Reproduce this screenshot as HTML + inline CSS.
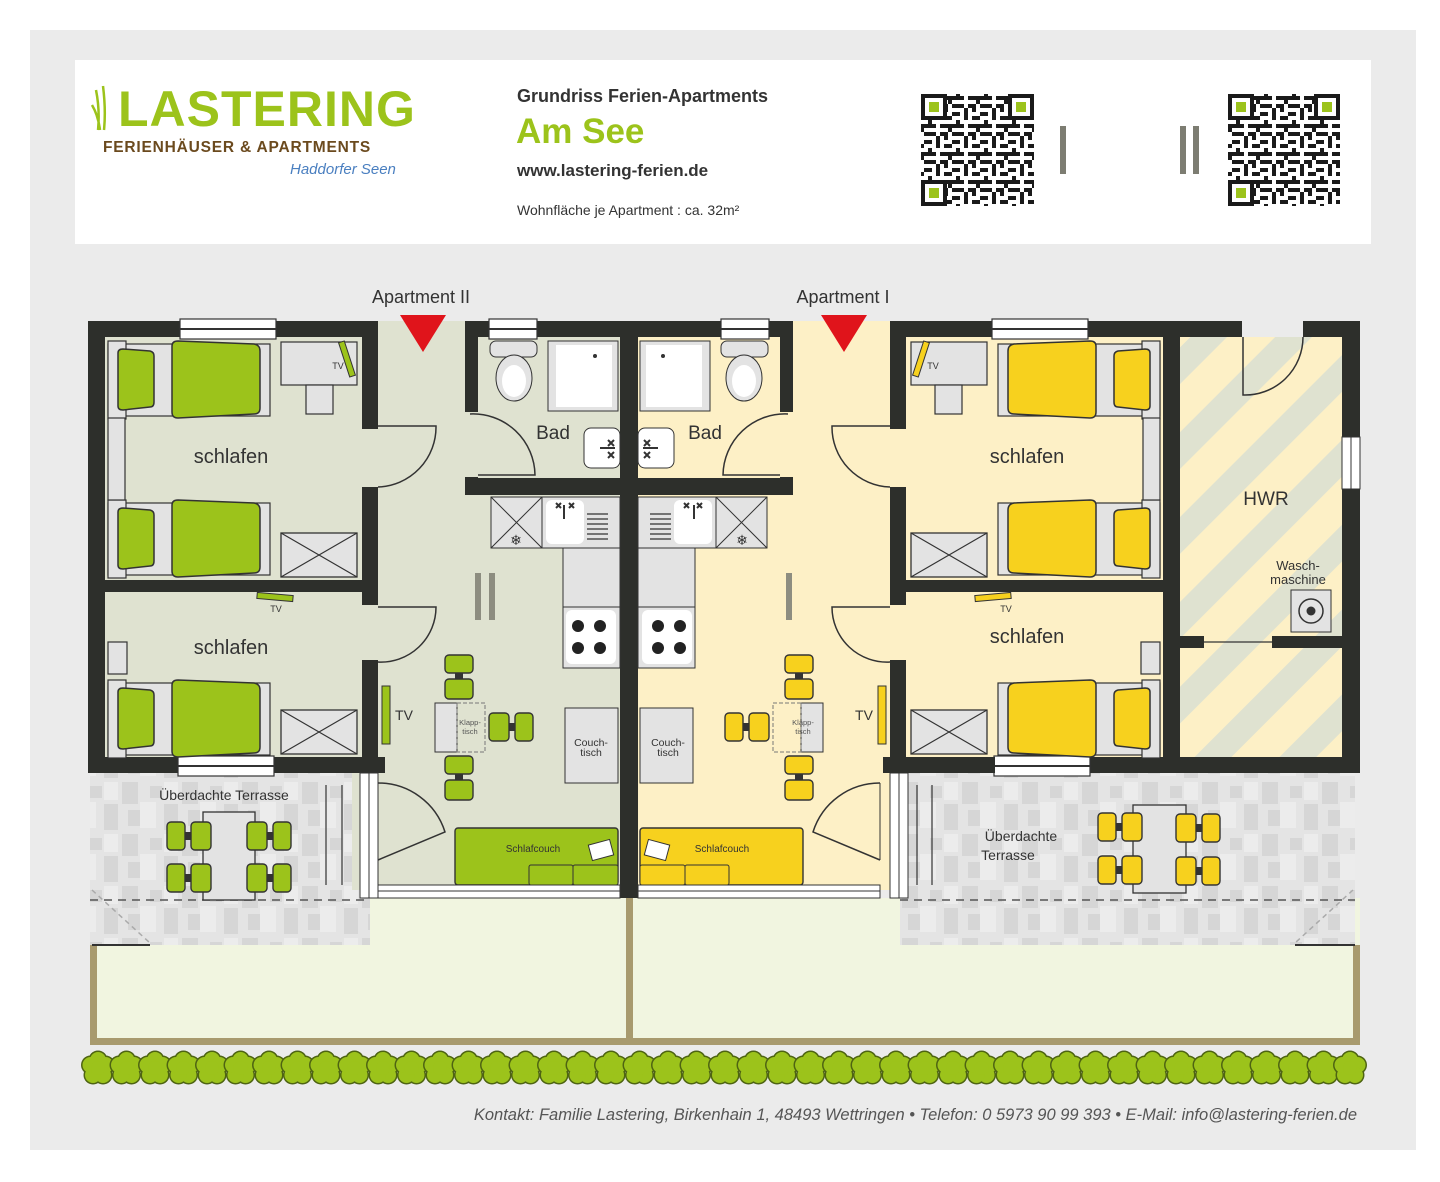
<!DOCTYPE html>
<html><head><meta charset="utf-8"><style>
html,body{margin:0;padding:0;background:#fff}
svg{display:block}
text{font-family:"Liberation Sans",sans-serif}
</style></head><body>
<svg width="1440" height="1182" viewBox="0 0 1440 1182" xmlns="http://www.w3.org/2000/svg">
<defs>
<pattern id="qr" width="28" height="28" patternUnits="userSpaceOnUse">
<rect width="28" height="28" fill="#fff"/>
<g fill="#1a1a1a"><rect x="0" y="0" width="8" height="4"/><rect x="12" y="0" width="4" height="8"/><rect x="20" y="4" width="8" height="4"/><rect x="4" y="8" width="4" height="8"/><rect x="16" y="12" width="8" height="4"/><rect x="0" y="20" width="12" height="4"/><rect x="20" y="20" width="4" height="8"/><rect x="8" y="12" width="4" height="4"/><rect x="12" y="24" width="4" height="4"/><rect x="24" y="12" width="4" height="8"/><rect x="16" y="20" width="4" height="4"/><rect x="0" y="12" width="4" height="4"/></g>
</pattern>
<pattern id="tiles" width="60" height="52" patternUnits="userSpaceOnUse">
<rect width="60" height="52" fill="#e4e4e4"/>
<g fill="#d6d6d6"><rect x="2" y="2" width="16" height="22"/><rect x="30" y="6" width="12" height="12"/><rect x="44" y="24" width="14" height="26"/><rect x="8" y="30" width="20" height="16"/></g>
<g fill="#ececec"><rect x="20" y="22" width="16" height="26"/><rect x="44" y="2" width="14" height="18"/></g>
</pattern>
<pattern id="hwr" width="60" height="60" patternUnits="userSpaceOnUse" patternTransform="rotate(-45)">
<rect width="60" height="60" fill="#fdf0c6"/><rect width="60" height="26" fill="#dfe2d0"/>
</pattern>
<g id="flower">
<g fill="#4e6412"><circle cx="0" cy="-8" r="9.5"/><circle cx="7.5" cy="-3" r="9.5"/><circle cx="5" cy="7" r="9.5"/><circle cx="-5" cy="7" r="9.5"/><circle cx="-7.5" cy="-3" r="9.5"/></g>
<g fill="#9cc31b"><circle cx="0" cy="-8" r="8"/><circle cx="7.5" cy="-3" r="8"/><circle cx="5" cy="7" r="8"/><circle cx="-5" cy="7" r="8"/><circle cx="-7.5" cy="-3" r="8"/><circle r="7"/></g>
</g>
<g id="bed">
<rect x="0" y="0" width="162" height="72" fill="#e3e3e3" stroke="#333" stroke-width="1.2"/>
<rect x="0" y="-3" width="18" height="78" fill="#e3e3e3" stroke="#333" stroke-width="1.2"/>
<path d="M10,9 Q10,5 15,5 L42,7 Q46,8 46,12 L46,58 Q46,63 42,63 L15,66 Q10,66 10,62Z" fill="currentColor" stroke="#333" stroke-width="1.5"/>
<path d="M64,2 Q64,-3 70,-3 L146,0 Q152,1 152,7 L152,64 Q152,70 146,70 L70,74 Q64,74 64,68Z" fill="currentColor" stroke="#333" stroke-width="1.5"/>
</g>
<g id="wardrobe"><rect x="0" y="0" width="76" height="44" fill="#e3e3e3" stroke="#333" stroke-width="1.3"/><path d="M0,0L76,44M76,0L0,44" stroke="#333" stroke-width="1.2"/></g>
<g id="chair"><rect x="0" y="0" width="28" height="18" rx="4" fill="currentColor" stroke="#333" stroke-width="1.4"/><rect x="10" y="18" width="8" height="6" fill="#333"/><rect x="0" y="24" width="28" height="20" rx="4" fill="currentColor" stroke="#333" stroke-width="1.4"/></g>
<g id="win-h"><rect x="0" y="0" width="96" height="20" fill="#fff" stroke="#333" stroke-width="1.2"/><line x1="0" y1="10" x2="96" y2="10" stroke="#333" stroke-width="2"/></g>

<g id="hallg">
<rect x="352" y="321" width="268" height="569" style="fill:var(--fl)"/>
<rect x="478" y="337" width="142" height="141" style="fill:var(--fl)"/>
<g fill="#2d2f2b">
<rect x="465" y="321" width="172" height="16"/>
<rect x="465" y="321" width="13" height="91"/>
<rect x="465" y="477" width="13" height="18"/>
<rect x="465" y="478" width="157" height="17"/>
<rect x="620" y="321" width="17" height="577"/>
</g>
<rect x="489" y="319" width="48" height="20" fill="#fff" stroke="#333" stroke-width="1.2"/><line x1="489" y1="329" x2="537" y2="329" stroke="#333" stroke-width="2"/>
<rect x="490" y="341" width="47" height="16" rx="6" fill="#e3e3e3" stroke="#333"/>
<ellipse cx="514" cy="378" rx="18" ry="23" fill="#e3e3e3" stroke="#333"/>
<ellipse cx="514" cy="381" rx="12" ry="16" fill="#fff"/>
<rect x="548" y="341" width="70" height="70" fill="#e3e3e3" stroke="#333"/>
<rect x="556" y="345" width="56" height="62" fill="#fff"/>
<circle cx="595" cy="356" r="2" fill="#333"/>
<rect x="584" y="428" width="36" height="40" rx="7" fill="#fff" stroke="#333"/>
<path d="M600,448 H615 M608,440 l6,6 M614,440 l-6,6 M608,452 l6,6 M614,452 l-6,6" stroke="#333" stroke-width="2"/>
<path d="M478,475 H535 A62,62 0 0 0 470,414" fill="none" stroke="#333" stroke-width="1.5"/>
<rect x="491" y="497" width="51" height="51" fill="#e3e3e3" stroke="#333"/>
<path d="M491,497 L542,548 M542,497 L491,548" stroke="#333"/>
<text x="516" y="545" font-size="14" text-anchor="middle" fill="#333">❄</text>
<rect x="542" y="497" width="78" height="51" fill="#e3e3e3" stroke="#333"/>
<rect x="546" y="500" width="38" height="44" rx="6" fill="#fff"/>
<path d="M564,505 V519 M556,503 l5,5 M561,503 l-5,5 M569,503 l5,5 M574,503 l-5,5" stroke="#333" stroke-width="2"/>
<path d="M587,514 H608 M587,519 H608 M587,524 H608 M587,529 H608 M587,534 H608 M587,539 H608" stroke="#333" stroke-width="1.2"/>
<rect x="563" y="548" width="57" height="59" fill="#e3e3e3" stroke="#333"/>
<rect x="563" y="607" width="57" height="61" fill="#e3e3e3" stroke="#333"/>
<rect x="566" y="610" width="50" height="54" rx="6" fill="#fff"/>
<g fill="#222"><circle cx="578" cy="626" r="6"/><circle cx="600" cy="626" r="6"/><circle cx="578" cy="648" r="6"/><circle cx="600" cy="648" r="6"/></g>
<rect x="565" y="708" width="53" height="75" fill="#e3e3e3" stroke="#333"/>
<rect x="435" y="703" width="22" height="49" fill="#e3e3e3" stroke="#333"/>
<rect x="457" y="703" width="28" height="49" fill="none" stroke="#777" stroke-dasharray="4,2"/>
<use href="#chair" x="445" y="655"/>
<use href="#chair" x="445" y="756"/>
<use href="#chair" x="0" y="0" transform="translate(533,713) rotate(90)"/>
<rect x="455" y="828" width="163" height="57" rx="3" fill="currentColor" stroke="#333" stroke-width="1.4"/>
<rect x="529" y="865" width="44" height="20" rx="2" fill="currentColor" stroke="#333"/>
<rect x="573" y="865" width="45" height="20" rx="2" fill="currentColor" stroke="#333"/>
<rect x="590" y="842" width="22" height="16" fill="#fff" stroke="#333" transform="rotate(-15 601 850)"/>
<rect x="378" y="885" width="242" height="13" fill="#fff" stroke="#333"/>
<line x1="378" y1="891" x2="620" y2="891" stroke="#333"/>
<path d="M378,860 L445,832 A70,70 0 0 0 378,783" fill="none" stroke="#333" stroke-width="1.5"/>
<line x1="378" y1="783" x2="378" y2="860" stroke="#333"/>
</g>

<g id="bedg">
<rect x="105" y="337" width="257" height="420" style="fill:var(--fl)"/>
<g fill="#2d2f2b">
<rect x="88" y="321" width="290" height="16"/>
<rect x="88" y="321" width="17" height="452"/>
<rect x="88" y="580" width="290" height="12"/>
<rect x="362" y="321" width="16" height="108"/>
<rect x="362" y="487" width="16" height="118"/>
<rect x="362" y="660" width="16" height="113"/>
<rect x="88" y="757" width="297" height="16"/>
</g>
<rect x="360" y="773" width="18" height="125" fill="#fff" stroke="#333"/>
<line x1="369" y1="773" x2="369" y2="898" stroke="#333"/>
<use href="#win-h" x="180" y="319"/>
<use href="#win-h" x="178" y="756"/>
<use href="#bed" x="108" y="344"/>
<use href="#bed" x="108" y="503"/>
<rect x="108" y="418" width="17" height="82" fill="#e3e3e3" stroke="#333" stroke-width="1.2"/>
<rect x="281" y="342" width="76" height="43" fill="#e3e3e3" stroke="#333" stroke-width="1.2"/>
<rect x="306" y="385" width="27" height="29" fill="#e3e3e3" stroke="#333" stroke-width="1.2"/>
<rect x="344" y="341" width="6" height="36" fill="currentColor" stroke="#333" transform="rotate(-18 347 359)"/>
<use href="#wardrobe" x="281" y="533"/>
<rect x="257" y="594" width="36" height="6" fill="currentColor" stroke="#333" transform="rotate(5 275 597)"/>
<rect x="108" y="642" width="19" height="32" fill="#e3e3e3" stroke="#333" stroke-width="1.2"/>
<use href="#bed" x="108" y="683"/>
<use href="#wardrobe" x="281" y="710"/>
<rect x="382" y="686" width="8" height="58" fill="currentColor" stroke="#333"/>
<g fill="none" stroke="#333" stroke-width="1.5">
<path d="M378,426 H436 A60,60 0 0 1 378,487"/>
<path d="M378,607 H436 A55,55 0 0 1 378,662"/>
</g>
</g>
</defs>

<rect x="30" y="30" width="1386" height="1120" fill="#ebebeb"/>
<rect x="75" y="60" width="1296" height="184" fill="#fff"/>

<text x="118" y="126" font-size="50" font-weight="bold" fill="#9cc31b" letter-spacing="1">LASTERING</text>
<path d="M96,90 Q100,110 98,130 M103,86 Q106,110 104,130 M92,105 Q98,115 100,130" stroke="#9cc31b" stroke-width="2.5" fill="none"/>
<text x="103" y="152" font-size="15.5" font-weight="bold" fill="#6b4a1e" letter-spacing="0.8">FERIENHÄUSER &amp; APARTMENTS</text>
<text x="290" y="174" font-size="15" font-style="italic" fill="#4a7fc0" font-family="Liberation Serif,serif">Haddorfer Seen</text>
<text x="517" y="102" font-size="18" font-weight="bold" fill="#333">Grundriss Ferien-Apartments</text>
<text x="516" y="143" font-size="35" font-weight="bold" fill="#9cc31b">Am See</text>
<text x="517" y="176" font-size="17" font-weight="bold" fill="#333">www.lastering-ferien.de</text>
<text x="517" y="215" font-size="14" fill="#333">Wohnfläche je Apartment : ca. 32m²</text>
<g>
<rect x="921" y="94" width="113" height="112" fill="url(#qr)"/>
<rect x="1228" y="94" width="112" height="112" fill="url(#qr)"/>
<g fill="#1a1a1a">
<rect x="921" y="94" width="26" height="26"/><rect x="1008" y="94" width="26" height="26"/><rect x="921" y="180" width="26" height="26"/>
<rect x="1228" y="94" width="26" height="26"/><rect x="1314" y="94" width="26" height="26"/><rect x="1228" y="180" width="26" height="26"/>
</g>
<g fill="#fff">
<rect x="925" y="98" width="18" height="18"/><rect x="1012" y="98" width="18" height="18"/><rect x="925" y="184" width="18" height="18"/>
<rect x="1232" y="98" width="18" height="18"/><rect x="1318" y="98" width="18" height="18"/><rect x="1232" y="184" width="18" height="18"/>
</g>
<g fill="#9cc31b">
<rect x="929" y="102" width="10" height="10"/><rect x="1016" y="102" width="10" height="10"/><rect x="929" y="188" width="10" height="10"/>
<rect x="1236" y="102" width="10" height="10"/><rect x="1322" y="102" width="10" height="10"/><rect x="1236" y="188" width="10" height="10"/>
</g>
</g>
<g fill="#7d7d72"><rect x="1060" y="126" width="6" height="48"/><rect x="1180" y="126" width="6" height="48"/><rect x="1193" y="126" width="6" height="48"/></g>

<rect x="90" y="898" width="1270" height="147" fill="#f1f5e0"/>
<g stroke="#a89a6e" stroke-width="7" fill="none">
<path d="M93.5,945 V1041.5 H1356.5 V945"/>
<line x1="629.5" y1="898" x2="629.5" y2="1041"/>
</g>

<rect x="90" y="773" width="280" height="172" fill="url(#tiles)"/>
<rect x="900" y="773" width="455" height="172" fill="url(#tiles)"/>
<g stroke="#555" stroke-width="1.5" stroke-dasharray="8,6">
<line x1="90" y1="900" x2="370" y2="900"/><line x1="900" y1="900" x2="1355" y2="900"/>
</g>
<g stroke="#aaa" stroke-width="1.5" stroke-dasharray="5,4">
<line x1="92" y1="890" x2="150" y2="943"/><line x1="1353" y1="890" x2="1295" y2="943"/>
</g>
<g stroke="#333" stroke-width="2"><line x1="92" y1="945" x2="150" y2="945"/><line x1="1295" y1="945" x2="1355" y2="945"/></g>
<g stroke="#333" stroke-width="1.2"><line x1="326" y1="785" x2="326" y2="885"/><line x1="342" y1="785" x2="342" y2="885"/>
<line x1="917" y1="785" x2="917" y2="885"/><line x1="932" y1="785" x2="932" y2="885"/></g>

<g style="--fl:#dfe2d0;color:#9cc31b">
<use href="#hallg"/>
<use href="#bedg"/>
</g>
<g style="--fl:#fdf0c6;color:#f7d11e">
<use href="#hallg" transform="translate(1258,0) scale(-1,1)"/>
<use href="#bedg" transform="translate(1268,0) scale(-1,1)"/>
</g>

<rect x="1180" y="337" width="162" height="420" fill="url(#hwr)"/>
<g fill="#2d2f2b">
<rect x="1180" y="321" width="62" height="16"/><rect x="1303" y="321" width="57" height="16"/>
<rect x="1342" y="321" width="18" height="452"/>
<rect x="1160" y="757" width="200" height="16"/>
<rect x="1180" y="636" width="24" height="12"/><rect x="1272" y="636" width="70" height="12"/>
<rect x="885" y="757" width="110" height="16"/>
</g>
<line x1="1204" y1="642" x2="1272" y2="642" stroke="#333" stroke-width="1.2"/>
<rect x="1342" y="437" width="18" height="52" fill="#fff" stroke="#333"/><line x1="1351" y1="437" x2="1351" y2="489" stroke="#333"/>
<path d="M1243,337 V395 A58,58 0 0 0 1303,337" fill="none" stroke="#333" stroke-width="1.5"/>
<rect x="1291" y="590" width="40" height="42" fill="#e3e3e3" stroke="#333"/>
<circle cx="1311" cy="611" r="12" fill="none" stroke="#333" stroke-width="1.5"/><circle cx="1311" cy="611" r="4.5" fill="#333"/>

<g style="color:#9cc31b">
<rect x="203" y="812" width="52" height="88" fill="#e3e3e3" stroke="#333" stroke-width="1.3"/>
<use href="#chair" transform="translate(167,850) rotate(-90)"/>
<use href="#chair" transform="translate(167,892) rotate(-90)"/>
<use href="#chair" transform="translate(291,822) rotate(90)"/>
<use href="#chair" transform="translate(291,864) rotate(90)"/>
</g>
<g style="color:#f7d11e">
<rect x="1133" y="805" width="53" height="88" fill="#e3e3e3" stroke="#333" stroke-width="1.3"/>
<use href="#chair" transform="translate(1098,841) rotate(-90)"/>
<use href="#chair" transform="translate(1098,884) rotate(-90)"/>
<use href="#chair" transform="translate(1220,814) rotate(90)"/>
<use href="#chair" transform="translate(1220,857) rotate(90)"/>
</g>

<path d="M400,315 H446 L423,352Z" fill="#e0141b"/>
<path d="M821,315 H867 L844,352Z" fill="#e0141b"/>
<text x="421" y="303" font-size="18" fill="#333" text-anchor="middle">Apartment II</text>
<text x="843" y="303" font-size="18" fill="#333" text-anchor="middle">Apartment I</text>
<g fill="#8d8d80"><rect x="475" y="573" width="6" height="47"/><rect x="489" y="573" width="6" height="47"/><rect x="786" y="573" width="6" height="47"/></g>

<g fill="#333" text-anchor="middle">
<text x="231" y="463" font-size="20">schlafen</text>
<text x="231" y="654" font-size="20">schlafen</text>
<text x="1027" y="463" font-size="20">schlafen</text>
<text x="1027" y="643" font-size="20">schlafen</text>
<text x="553" y="439" font-size="19">Bad</text>
<text x="705" y="439" font-size="19">Bad</text>
<text x="1266" y="505" font-size="19">HWR</text>
<text x="1298" y="570" font-size="13">Wasch-</text>
<text x="1298" y="584" font-size="13">maschine</text>
<text x="338" y="369" font-size="9">TV</text>
<text x="276" y="612" font-size="9">TV</text>
<text x="933" y="369" font-size="9">TV</text>
<text x="1006" y="612" font-size="9">TV</text>
<text x="404" y="720" font-size="14">TV</text>
<text x="864" y="720" font-size="14">TV</text>
<text x="470" y="725" font-size="7.5" fill="#555">Klapp-</text>
<text x="470" y="734" font-size="7.5" fill="#555">tisch</text>
<text x="803" y="725" font-size="7.5" fill="#555">Klapp-</text>
<text x="803" y="734" font-size="7.5" fill="#555">tisch</text>
<text x="591" y="746" font-size="10.5">Couch-</text>
<text x="591" y="756" font-size="10.5">tisch</text>
<text x="668" y="746" font-size="10.5">Couch-</text>
<text x="668" y="756" font-size="10.5">tisch</text>
<text x="533" y="852" font-size="10">Schlafcouch</text>
<text x="722" y="852" font-size="10">Schlafcouch</text>
<text x="224" y="800" font-size="14">Überdachte Terrasse</text>
<text x="1021" y="841" font-size="14">Überdachte</text>
<text x="1008" y="860" font-size="14">Terrasse</text>
</g>

<g>
<use href="#flower" x="98" y="1068"/><use href="#flower" x="126.5" y="1068"/><use href="#flower" x="155" y="1068"/><use href="#flower" x="183.5" y="1068"/><use href="#flower" x="212" y="1068"/><use href="#flower" x="240.5" y="1068"/><use href="#flower" x="269" y="1068"/><use href="#flower" x="297.5" y="1068"/><use href="#flower" x="326" y="1068"/><use href="#flower" x="354.5" y="1068"/><use href="#flower" x="383" y="1068"/><use href="#flower" x="411.5" y="1068"/><use href="#flower" x="440" y="1068"/><use href="#flower" x="468.5" y="1068"/><use href="#flower" x="497" y="1068"/><use href="#flower" x="525.5" y="1068"/><use href="#flower" x="554" y="1068"/><use href="#flower" x="582.5" y="1068"/><use href="#flower" x="611" y="1068"/><use href="#flower" x="639.5" y="1068"/><use href="#flower" x="668" y="1068"/><use href="#flower" x="696.5" y="1068"/><use href="#flower" x="725" y="1068"/><use href="#flower" x="753.5" y="1068"/><use href="#flower" x="782" y="1068"/><use href="#flower" x="810.5" y="1068"/><use href="#flower" x="839" y="1068"/><use href="#flower" x="867.5" y="1068"/><use href="#flower" x="896" y="1068"/><use href="#flower" x="924.5" y="1068"/><use href="#flower" x="953" y="1068"/><use href="#flower" x="981.5" y="1068"/><use href="#flower" x="1010" y="1068"/><use href="#flower" x="1038.5" y="1068"/><use href="#flower" x="1067" y="1068"/><use href="#flower" x="1095.5" y="1068"/><use href="#flower" x="1124" y="1068"/><use href="#flower" x="1152.5" y="1068"/><use href="#flower" x="1181" y="1068"/><use href="#flower" x="1209.5" y="1068"/><use href="#flower" x="1238" y="1068"/><use href="#flower" x="1266.5" y="1068"/><use href="#flower" x="1295" y="1068"/><use href="#flower" x="1323.5" y="1068"/><use href="#flower" x="1350" y="1068"/>
</g>

<text x="1357" y="1120" font-size="16.5" font-style="italic" fill="#555" text-anchor="end">Kontakt:  Familie Lastering, Birkenhain 1, 48493 Wettringen • Telefon: 0 5973 90 99 393 • E-Mail: info@lastering-ferien.de</text>
</svg>
</body></html>
